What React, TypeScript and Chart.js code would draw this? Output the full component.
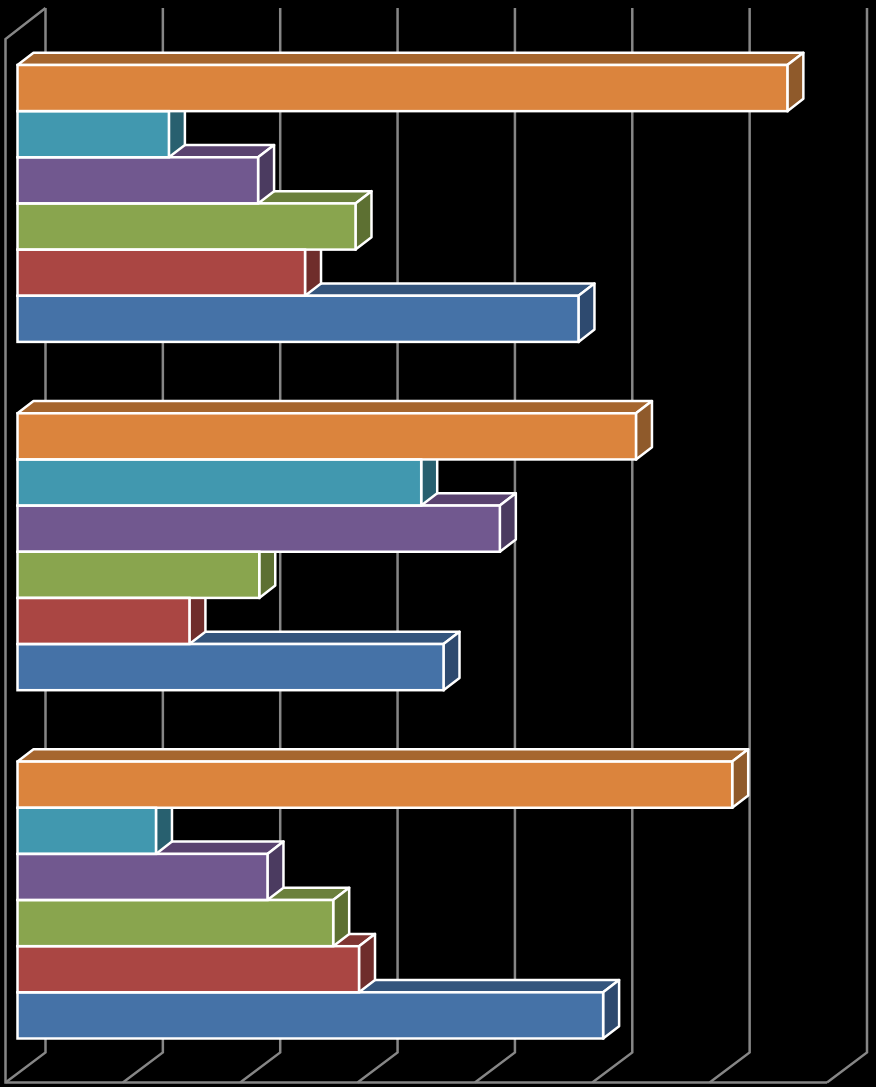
import React, { useEffect, useRef } from "react";
import { Chart, registerables } from "chart.js";

Chart.register(...registerables);

const categories = ["Group 3", "Group 2", "Group 1"];
const seriesNames = ["Series 6", "Series 5", "Series 4", "Series 3", "Series 2", "Series 1"];
const orangeValues = [6.56, 5.27, 6.09];
const tealValues = [1.29, 3.44, 1.18];
const purpleValues = [2.05, 4.11, 2.13];
const greenValues = [2.88, 2.06, 2.69];
const redValues = [2.45, 1.465, 2.91];
const blueValues = [4.78, 3.63, 4.99];
const seriesValues = [orangeValues, tealValues, purpleValues, greenValues, redValues, blueValues];
const frontColors = ["#DB843D", "#4198AF", "#71588F", "#89A54E", "#AA4643", "#4572A7"];
const topColors = ["#A6662E", "#2F6C7E", "#5A4370", "#6B803C", "#803532", "#34557D"];
const sideColors = ["#8F5A2B", "#28606F", "#4B3B60", "#5D7032", "#6F2D2B", "#2E4A6F"];

const BAR_DX = 16;
const BAR_DY = 12.3;
const WALL_FRONT_DX = -12;
const WALL_FRONT_DY = 8.2;
const WALL_BACK_DX = 28;
const WALL_BACK_DY = 21.8;
const WALL_TOP = 8;
const GRID_COLOR = "#868686";
const GRID_WIDTH = 2.5;
const EDGE_WIDTH = 2.5;

function poly(ctx: CanvasRenderingContext2D, pts: number[][], fill: string) {
  ctx.beginPath();
  pts.forEach((p, i) => (i ? ctx.lineTo(p[0], p[1]) : ctx.moveTo(p[0], p[1])));
  ctx.closePath();
  ctx.fillStyle = fill;
  ctx.fill();
  ctx.strokeStyle = "#FFFFFF";
  ctx.lineWidth = EDGE_WIDTH;
  ctx.lineJoin = "round";
  ctx.stroke();
}

const box3d = {
  id: "box3d",
  beforeDatasetsDraw(chart: any) {
    const ctx: CanvasRenderingContext2D = chart.ctx;
    const xs = chart.scales.x;
    const area = chart.chartArea;
    const floorFront = area.bottom + WALL_FRONT_DY;
    const floorBack = area.bottom - WALL_BACK_DY;
    const left = xs.getPixelForValue(0);
    ctx.save();
    ctx.strokeStyle = GRID_COLOR;
    ctx.lineWidth = GRID_WIDTH;
    // side wall and front floor edge
    const lastTick = xs.ticks[xs.ticks.length - 1].value;
    ctx.beginPath();
    ctx.moveTo(left + WALL_BACK_DX, WALL_TOP);
    ctx.lineTo(left + WALL_FRONT_DX, WALL_TOP + 31);
    ctx.lineTo(left + WALL_FRONT_DX, floorFront);
    ctx.lineTo(xs.getPixelForValue(lastTick) + WALL_FRONT_DX, floorFront);
    ctx.stroke();
    xs.ticks.forEach((t: any) => {
      const p = xs.getPixelForValue(t.value);
      ctx.beginPath();
      ctx.moveTo(p + WALL_BACK_DX, WALL_TOP);
      ctx.lineTo(p + WALL_BACK_DX, floorBack);
      ctx.lineTo(p + WALL_FRONT_DX, floorFront);
      ctx.stroke();
    });
    // top and side faces, lowest bars first
    for (let c = categories.length - 1; c >= 0; c--) {
      for (let d = seriesValues.length - 1; d >= 0; d--) {
        const bar = chart.getDatasetMeta(d).data[c];
        const x0 = bar.base;
        const x1 = bar.x;
        const y0 = bar.y - bar.height / 2;
        const y1 = bar.y + bar.height / 2;
        poly(ctx, [[x0, y0], [x0 + BAR_DX, y0 - BAR_DY], [x1 + BAR_DX, y0 - BAR_DY], [x1, y0]], topColors[d]);
        poly(ctx, [[x1, y0], [x1 + BAR_DX, y0 - BAR_DY], [x1 + BAR_DX, y1 - BAR_DY], [x1, y1]], sideColors[d]);
      }
    }
    ctx.restore();
  },
  afterDatasetsDraw(chart: any) {
    const ctx: CanvasRenderingContext2D = chart.ctx;
    ctx.save();
    ctx.strokeStyle = "#FFFFFF";
    ctx.lineWidth = EDGE_WIDTH;
    for (let d = 0; d < seriesValues.length; d++) {
      chart.getDatasetMeta(d).data.forEach((bar: any) => {
        ctx.strokeRect(bar.base, bar.y - bar.height / 2, bar.x - bar.base, bar.height);
      });
    }
    ctx.restore();
  },
};

export default function App() {
  const ref = useRef<HTMLCanvasElement>(null);
  useEffect(() => {
    const chart = new Chart(ref.current as HTMLCanvasElement, {
      type: "bar",
      data: {
        labels: categories,
        datasets: seriesValues.map((values, i) => ({
          label: seriesNames[i],
          data: values,
          backgroundColor: frontColors[i],
          borderWidth: 0,
          categoryPercentage: 0.795,
          barPercentage: 1,
        })),
      },
      options: {
        indexAxis: "y",
        responsive: false,
        animation: false,
        layout: { padding: { left: 17.5, right: 37, top: 29.3, bottom: 12.8 } },
        plugins: { legend: { display: false }, title: { display: false }, tooltip: { enabled: false } },
        scales: {
          x: {
            min: 0,
            max: 7,
            ticks: { display: false, stepSize: 1 },
            grid: { display: false, drawTicks: false },
            border: { display: false },
          },
          y: {
            ticks: { display: false },
            grid: { display: false, drawTicks: false },
            border: { display: false },
          },
        },
      },
      plugins: [box3d],
    } as any);
    return () => chart.destroy();
  }, []);
  return (
    <div style={{ position: "absolute", left: 0, top: 0, width: 876, height: 1087, background: "#000000" }}>
      <canvas ref={ref} width={876} height={1087} style={{ display: "block" }} />
    </div>
  );
}
